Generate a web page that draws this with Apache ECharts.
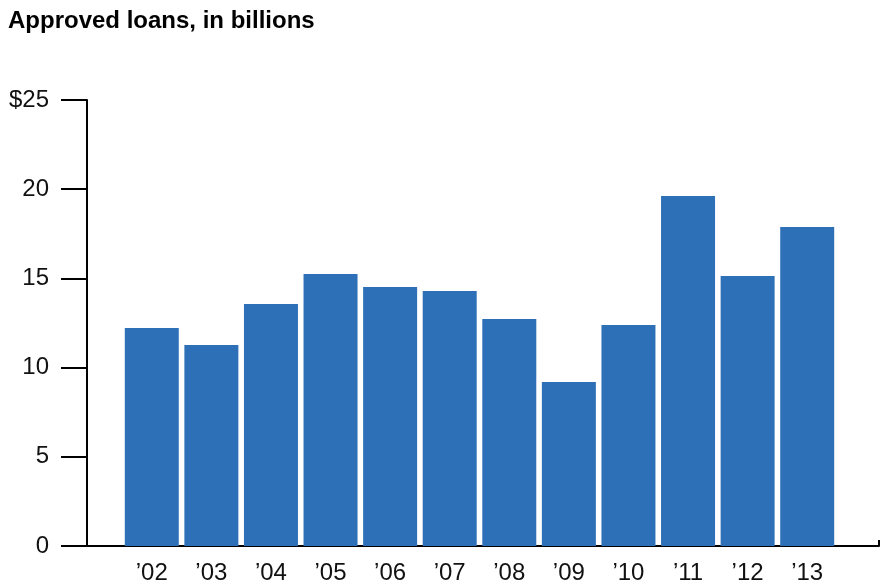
<!DOCTYPE html>
<html>
<head>
<meta charset="utf-8">
<script src="https://cdn.jsdelivr.net/npm/echarts@6/dist/echarts.min.js"></script>
<style>html,body{margin:0;padding:0;background:#fff}#c{width:882px;height:581px}</style>
</head>
<body>
<div id="c"></div>
<script>
const titleText = 'Approved loans, in billions';
const categories = ['\u201902','\u201903','\u201904','\u201905','\u201906','\u201907','\u201908','\u201909','\u201910','\u201911','\u201912','\u201913'];
const loans = [12.22, 11.27, 13.56, 15.25, 14.52, 14.29, 12.72, 9.19, 12.39, 19.62, 15.13, 17.88];
const yTicks = [0, 5, 10, 15, 20, 25];

const font = 'Liberation Sans, Arial, Helvetica, sans-serif';
const chart = echarts.init(document.getElementById('c'), null, {renderer: 'canvas'});
chart.setOption({
  animation: false,
  title: {
    text: titleText, left: 3, top: 4,
    textStyle: {fontFamily: font, fontSize: 24, fontWeight: 'bold', color: '#000'}
  },
  grid: [
    {left: 87, right: 3, top: 100, bottom: 35, containLabel: false, outerBoundsMode: 'none'},
    {left: 122, right: 45, top: 100, bottom: 35, containLabel: false, outerBoundsMode: 'none'}
  ],
  xAxis: [
    {gridIndex: 0, type: 'value', min: 0, max: 1, interval: 1,
     axisLine: {show: true, lineStyle: {color: '#000', width: 2}},
     axisTick: {show: true, inside: true, length: 6, lineStyle: {color: '#000', width: 2}},
     axisLabel: {show: false}, splitLine: {show: false}},
    {gridIndex: 1, type: 'category', data: categories,
     axisLine: {show: false}, axisTick: {show: false},
     axisLabel: {fontFamily: font, fontSize: 24, color: '#111', margin: 15}}
  ],
  yAxis: [
    {gridIndex: 0, type: 'value', min: yTicks[0], max: yTicks[yTicks.length-1], interval: 5,
     axisLine: {show: true, lineStyle: {color: '#000', width: 2}},
     axisTick: {show: true, length: 26, lineStyle: {color: '#000', width: 2}},
     splitLine: {show: false},
     axisLabel: {fontFamily: font, fontSize: 24, color: '#111', margin: 38,
       formatter: v => v === 25 ? '$25' : String(v)}},
    {gridIndex: 1, type: 'value', min: 0, max: 25, interval: 5, show: false}
  ],
  series: [{
    type: 'bar', xAxisIndex: 1, yAxisIndex: 1, data: loans, barWidth: 54,
    itemStyle: {color: '#2e70b7'}
  }]
});
</script>
</body>
</html>
